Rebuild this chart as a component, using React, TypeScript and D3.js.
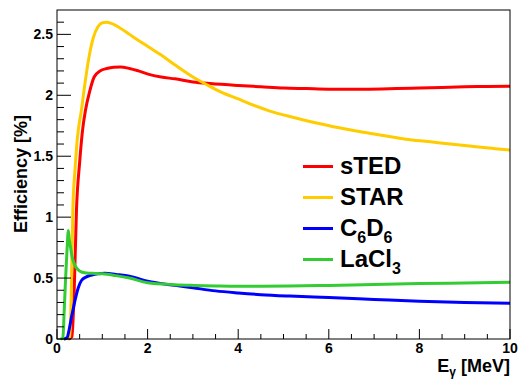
import * as d3 from 'd3';

// Efficiency curves (E in MeV, efficiency in %)
const stedE = [0.25, 0.33, 0.38, 0.43, 0.5, 0.56, 0.63, 0.72, 0.82, 0.95, 1.1, 1.25, 1.4, 1.6, 1.8, 2.05, 2.3, 2.6, 3.0, 3.38, 4.0, 4.5, 5.0, 5.5, 6.0, 6.8, 7.5, 8.0, 8.5, 9.0, 9.5, 10];
const stedEff = [0, 0.02, 0.4, 1.06, 1.45, 1.7, 1.88, 2.03, 2.15, 2.2, 2.22, 2.23, 2.232, 2.22, 2.2, 2.17, 2.15, 2.135, 2.11, 2.096, 2.08, 2.07, 2.06, 2.055, 2.05, 2.05, 2.055, 2.06, 2.065, 2.07, 2.072, 2.075];

const starE = [0.2, 0.28, 0.31, 0.35, 0.4, 0.45, 0.54, 0.6, 0.7, 0.8, 0.9, 1.0, 1.1, 1.2, 1.4, 1.6, 1.8, 2.05, 2.3, 2.6, 3.0, 3.27, 3.6, 4.0, 4.26, 4.7, 5.2, 5.73, 6.2, 6.7, 7.2, 7.7, 8.2, 8.68, 9.2, 9.6, 10];
const starEff = [0, 0.02, 0.3, 1.06, 1.4, 1.65, 1.88, 2.05, 2.3, 2.47, 2.56, 2.595, 2.6, 2.59, 2.55, 2.5, 2.45, 2.39, 2.33, 2.25, 2.15, 2.095, 2.03, 1.97, 1.93, 1.87, 1.82, 1.773, 1.735, 1.7, 1.67, 1.64, 1.62, 1.6, 1.58, 1.565, 1.55];

const c6d6E = [0.15, 0.22, 0.27, 0.32, 0.36, 0.4, 0.47, 0.54, 0.65, 0.77, 0.9, 1.06, 1.3, 1.6, 2.0, 2.6, 3.0, 3.5, 4.0, 4.5, 5.14, 6, 7, 8, 9, 10];
const c6d6Eff = [0, 0.01, 0.08, 0.18, 0.25, 0.32, 0.42, 0.48, 0.51, 0.525, 0.535, 0.54, 0.53, 0.515, 0.475, 0.44, 0.42, 0.395, 0.378, 0.364, 0.352, 0.34, 0.325, 0.31, 0.3, 0.293];

const laclE = [0.08, 0.13, 0.16, 0.19, 0.22, 0.25, 0.27, 0.3, 0.33, 0.36, 0.4, 0.45, 0.54, 0.7, 0.84, 1.0, 1.3, 1.6, 2.0, 2.6, 3.0, 3.5, 4.0, 4.5, 5.14, 6, 7, 8, 9, 10];
const laclEff = [0, 0.01, 0.24, 0.5, 0.72, 0.89, 0.82, 0.75, 0.68, 0.64, 0.6, 0.575, 0.55, 0.54, 0.538, 0.535, 0.52, 0.5, 0.462, 0.446, 0.44, 0.435, 0.432, 0.432, 0.434, 0.44, 0.448, 0.455, 0.46, 0.465];

const series = [
  { name: 'sTED', sub: '', name2: '', sub2: '', color: '#ff0000', x: stedE, y: stedEff },
  { name: 'STAR', sub: '', name2: '', sub2: '', color: '#ffcc00', x: starE, y: starEff },
  { name: 'C', sub: '6', name2: 'D', sub2: '6', color: '#0000ff', x: c6d6E, y: c6d6Eff },
  { name: 'LaCl', sub: '3', name2: '', sub2: '', color: '#33cc33', x: laclE, y: laclEff },
];

const yMajor = [0, 0.5, 1, 1.5, 2, 2.5];
const xMajor = [0, 2, 4, 6, 8, 10];

const W = 526;
const H = 387;
const left = 57, right = 510, top = 10, bottom = 339;
const font = '"Liberation Sans", Arial, Helvetica, sans-serif';

export default function App() {
  const x = d3.scaleLinear().domain([0, 10]).range([left, right]);
  const y = d3.scaleLinear().domain([0, 2.7]).range([bottom, top]);

  const yMinor = d3.range(0, 27).map((i) => i / 10).filter((v) => Math.round(v * 10) % 5 !== 0);
  const xMinor = d3.range(0, 21).map((i) => i / 2).filter((v) => v % 2 !== 0);

  const line = d3.line<number>()
    .curve(d3.curveMonotoneX);

  return (
    <svg width={W} height={H} style={{ position: 'absolute', left: 0, top: 0, background: '#fff' }}>
      <rect x={0} y={0} width={W} height={H} fill="#fff" />

      {/* curves */}
      {series.map((s) => (
        <path
          key={s.name}
          d={line.x((_, i) => x(s.x[i])).y((d) => y(d))(s.y) || ''}
          fill="none"
          stroke={s.color}
          strokeWidth={3}
        />
      ))}

      {/* frame */}
      <rect x={left} y={top} width={right - left} height={bottom - top} fill="none" stroke="#000" strokeWidth={1} />

      {/* y axis */}
      {yMajor.map((v) => (
        <g key={`ym${v}`}>
          <line x1={left} x2={left + 14} y1={y(v)} y2={y(v)} stroke="#000" />
          <text x={53} y={y(v)} dy="0.35em" textAnchor="end" fontFamily={font} fontWeight="bold" fontSize={14}>
            {v}
          </text>
        </g>
      ))}
      {yMinor.map((v) => (
        <line key={`yn${v}`} x1={left} x2={left + 7} y1={y(v)} y2={y(v)} stroke="#000" />
      ))}

      {/* x axis */}
      {xMajor.map((v) => (
        <g key={`xm${v}`}>
          <line x1={x(v)} x2={x(v)} y1={bottom} y2={bottom - 10} stroke="#000" />
          <text x={x(v)} y={353} textAnchor="middle" fontFamily={font} fontWeight="bold" fontSize={14}>
            {v}
          </text>
        </g>
      ))}
      {xMinor.map((v) => (
        <line key={`xn${v}`} x1={x(v)} x2={x(v)} y1={bottom} y2={bottom - 5} stroke="#000" />
      ))}

      {/* axis titles */}
      <text
        transform={`translate(27,174) rotate(-90)`}
        textAnchor="middle"
        fontFamily={font}
        fontWeight="bold"
        fontSize={18}
      >
        Efficiency [%]
      </text>
      <text x={right} y={372} textAnchor="end" fontFamily={font} fontWeight="bold" fontSize={18}>
        E<tspan fontSize={12} dy={4}>γ</tspan>
        <tspan dy={-4}> [MeV]</tspan>
      </text>

      {/* legend */}
      {series.map((s, i) => {
        const by = 174 + i * 31;
        return (
          <g key={`lg${s.name}`}>
            <line x1={303} x2={333} y1={by - 7.5} y2={by - 7.5} stroke={s.color} strokeWidth={3} />
            <text x={340} y={by} fontFamily={font} fontWeight="bold" fontSize={24}>
              {s.name}
              {s.sub && <tspan fontSize={16} dy={7}>{s.sub}</tspan>}
              {s.name2 && <tspan dy={-7}>{s.name2}</tspan>}
              {s.sub2 && <tspan fontSize={16} dy={7}>{s.sub2}</tspan>}
            </text>
          </g>
        );
      })}
    </svg>
  );
}
